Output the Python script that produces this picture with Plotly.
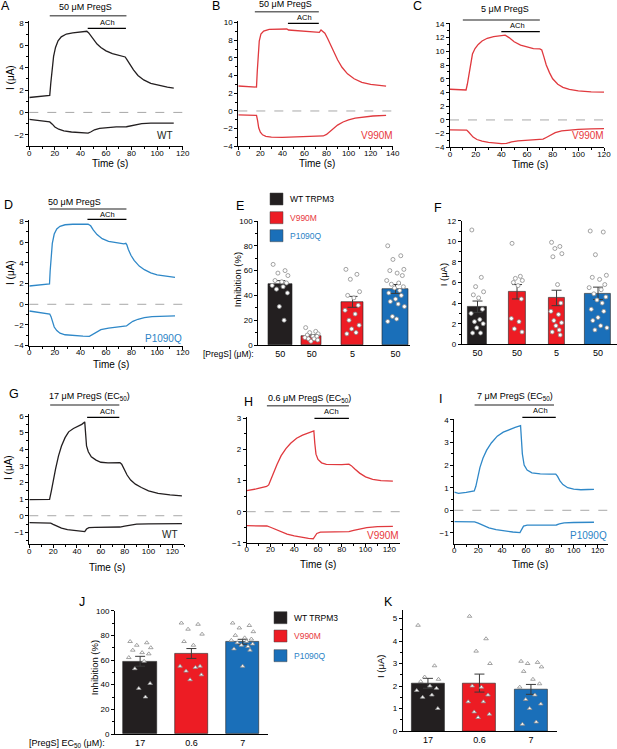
import plotly.graph_objects as go

W, H = 617, 749
FONT = "Arial, Liberation Sans, sans-serif"

BLACK = "#231f20"
RED_BAR = "#ed1c24"
BLUE_BAR = "#1a6fb9"
RED_LINE = "#e0393e"
BLUE_LINE = "#2f88c8"
RED_TEXT = "#e8383d"
BLUE_TEXT = "#2b83c6"
GREY_PT = "#8c8c8c"

# ── current traces (time in s, current in uA) ────────────────────────────────

A_UP_T = [0, 8, 16, 16.8, 17.8, 19, 20.5, 22.5, 25, 29, 34, 40, 45, 46.5, 48, 50, 53, 56, 60, 65, 70, 75, 76.5, 78.5, 81.5, 85, 89.5, 95, 102, 108, 113]
A_UP_I = [1.33, 1.42, 1.52, 2.6, 4.0, 5.0, 5.8, 6.4, 6.75, 7.0, 7.1, 7.2, 7.25, 7.1, 6.85, 6.5, 6.1, 5.8, 5.5, 5.25, 5.1, 4.95, 4.7, 4.3, 3.8, 3.3, 2.9, 2.6, 2.4, 2.25, 2.17]
A_DN_T = [0, 8, 16, 18, 20, 23, 27, 33, 40, 46, 48, 51, 55, 60, 68, 76, 79, 83, 88, 95, 105, 113]
A_DN_I = [-0.63, -0.72, -0.85, -1.05, -1.3, -1.5, -1.65, -1.75, -1.8, -1.85, -1.75, -1.55, -1.42, -1.35, -1.3, -1.28, -1.2, -1.08, -1.0, -0.96, -0.95, -0.95]

B_UP_T = [0, 8, 16.5, 17.2, 18, 19, 20.5, 23, 28, 35, 44, 45.5, 55, 65, 73.5, 75, 76.5, 78.5, 81, 84, 87, 90, 94, 99, 105, 112, 120, 128, 134]
B_UP_I = [2.83, 2.78, 2.7, 4.5, 6.8, 7.9, 8.7, 9.05, 9.25, 9.3, 9.28, 9.17, 9.08, 8.98, 8.9, 9.17, 9.05, 8.8, 8.2, 7.4, 6.6, 5.8, 4.95, 4.2, 3.65, 3.25, 3.0, 2.88, 2.82]
B_DN_T = [0, 8, 16.5, 17.5, 18.5, 20, 22, 25, 30, 40, 50, 60, 70, 77, 80, 83, 86, 90, 95, 100, 106, 113, 122, 134]
B_DN_I = [-0.45, -0.47, -0.5, -1.1, -1.9, -2.4, -2.7, -2.88, -2.95, -3.0, -2.95, -2.88, -2.85, -2.83, -2.65, -2.35, -2.0, -1.6, -1.25, -1.0, -0.8, -0.68, -0.57, -0.5]

C_UP_T = [0, 6, 12.5, 13.5, 14.8, 16, 17.5, 19.5, 22, 25, 29, 34, 40, 43, 46, 50, 55, 60, 65, 70, 71.5, 73, 75, 77.5, 80, 84, 88, 93, 100, 110, 120]
C_UP_I = [4.47, 4.42, 4.37, 5.2, 6.6, 8.2, 9.6, 10.4, 11.0, 11.5, 11.9, 12.15, 12.3, 12.35, 12.0, 11.4, 10.9, 10.6, 10.4, 10.35, 10.2, 9.3, 8.0, 6.9, 6.0, 5.2, 4.75, 4.45, 4.25, 4.1, 4.05]
C_DN_T = [0, 6, 13, 14.5, 16, 18, 21, 25, 30, 35, 40, 44, 48, 53, 60, 70, 72.5, 75, 78, 82, 87, 93, 100, 110, 120]
C_DN_I = [-1.45, -1.45, -1.47, -1.75, -2.1, -2.5, -2.85, -3.1, -3.28, -3.38, -3.45, -3.42, -3.2, -3.05, -2.97, -2.9, -2.8, -2.55, -2.2, -1.85, -1.6, -1.45, -1.37, -1.3, -1.27]

D_UP_T = [0, 8, 15.8, 16.3, 17, 18, 19.5, 21.5, 24, 28, 34, 40, 46, 48, 50, 53, 57, 62, 68, 74, 75.5, 76.3, 77.5, 79.5, 82, 86, 90, 95, 100, 107, 114]
D_UP_I = [1.77, 1.87, 1.97, 3.2, 4.6, 5.9, 6.8, 7.3, 7.55, 7.7, 7.75, 7.78, 7.75, 7.6, 7.2, 6.75, 6.35, 6.1, 5.95, 5.85, 5.9, 5.75, 5.3, 4.75, 4.25, 3.7, 3.35, 3.05, 2.85, 2.7, 2.6]
D_DN_T = [0, 8, 16, 17, 18, 19.5, 21.5, 24, 28, 35, 42, 47, 49, 52, 56, 62, 70, 76, 78, 81, 85, 90, 96, 104, 114]
D_DN_I = [-0.65, -0.8, -0.94, -1.2, -1.7, -2.2, -2.55, -2.8, -2.95, -3.05, -3.08, -3.1, -2.95, -2.7, -2.45, -2.3, -2.18, -2.1, -1.9, -1.65, -1.45, -1.3, -1.2, -1.15, -1.12]

G_UP_T = [0, 8, 17, 18.5, 20, 22, 24.5, 27, 30, 33, 37, 41, 44, 46.5, 47.2, 48, 49.5, 52, 56, 60, 66, 72, 76, 77.5, 79.5, 82, 85, 89, 94, 100, 108, 118, 128]
G_UP_I = [0.97, 0.97, 0.98, 1.5, 2.1, 2.8, 3.6, 4.2, 4.7, 5.05, 5.25, 5.4, 5.5, 5.65, 5.0, 4.2, 3.85, 3.55, 3.35, 3.22, 3.18, 3.18, 3.2, 3.1, 2.8, 2.45, 2.15, 1.9, 1.7, 1.5, 1.35, 1.25, 1.2]
G_DN_T = [0, 10, 18, 20, 23, 27, 32, 38, 44, 46.5, 48, 50, 55, 65, 76, 80, 84, 90, 100, 115, 128]
G_DN_I = [-0.42, -0.43, -0.45, -0.52, -0.63, -0.75, -0.84, -0.9, -0.93, -0.96, -0.8, -0.72, -0.7, -0.69, -0.68, -0.62, -0.56, -0.51, -0.49, -0.48, -0.48]

H_UP_T = [0, 8, 16.8, 18.5, 20, 22.5, 25.5, 29, 33, 37, 42, 47, 52, 55.5, 56.5, 57.3, 58.3, 60, 63, 67, 73, 80, 86, 88, 91, 95, 100, 106, 113, 118, 123]
H_UP_I = [0.68, 0.73, 0.81, 0.86, 1.0, 1.25, 1.52, 1.8, 2.03, 2.2, 2.36, 2.46, 2.54, 2.58, 2.6, 2.2, 1.85, 1.68, 1.57, 1.52, 1.51, 1.51, 1.53, 1.48, 1.37, 1.24, 1.12, 1.04, 1.0, 0.99, 0.98]
H_DN_T = [0, 8, 17, 20, 24, 29, 34, 40, 46, 52, 56, 57.5, 59, 62, 70, 80, 86, 90, 95, 101, 110, 123]
H_DN_I = [-0.45, -0.45, -0.46, -0.5, -0.56, -0.64, -0.72, -0.78, -0.83, -0.86, -0.87, -0.8, -0.7, -0.66, -0.65, -0.65, -0.64, -0.6, -0.55, -0.51, -0.48, -0.47]

I_UP_T = [0, 3.5, 10, 16.7, 18, 19.5, 21.5, 24, 27, 31, 36, 41, 46, 51, 55.5, 56.2, 57, 58.5, 61, 65, 72, 80, 85, 86.5, 88.5, 91, 95, 100, 106, 112, 117]
I_UP_I = [0.8, 0.75, 0.79, 0.86, 1.05, 1.45, 1.9, 2.3, 2.65, 2.98, 3.28, 3.46, 3.58, 3.67, 3.75, 3.1, 2.5, 2.0, 1.78, 1.66, 1.61, 1.6, 1.6, 1.5, 1.3, 1.14, 1.0, 0.94, 0.91, 0.92, 0.93]
I_DN_T = [0, 8, 17, 20, 24, 29, 35, 42, 49, 55, 56.5, 58, 61, 70, 80, 85.5, 88, 92, 100, 108, 117]
I_DN_I = [-0.5, -0.5, -0.51, -0.57, -0.68, -0.78, -0.86, -0.92, -0.96, -0.99, -0.82, -0.7, -0.66, -0.65, -0.65, -0.65, -0.6, -0.56, -0.54, -0.53, -0.53]

# drug application windows (s)
A_PREGS, A_ACH = [16, 76], [45.7, 75.6]
B_PREGS, B_ACH = [15, 73], [45, 73]
C_PREGS, C_ACH = [10, 70], [40, 70]
D_PREGS, D_ACH = [16, 76], [45.5, 76]
G_PREGS, G_ACH = [17.5, 75.5], [48.5, 75.5]
H_PREGS, H_ACH = [17, 86], [57, 86]
I_PREGS, I_ACH = [17, 83.5], [57, 85]

# ── summary bars ─────────────────────────────────────────────────────────────

E_LABELS = ["50", "50", "5", "50"]
E_MEAN = [49.3, 7.3, 34.8, 45.2]
E_SEM = [2.6, 1.0, 4.4, 3.6]
E_WT = [65, 60, 58, 56, 52, 51, 50, 48, 47, 45, 42, 31, 20]
E_V50 = [14, 11, 10, 9, 8, 7, 7, 6, 5, 5, 4, 3]
E_V5 = [61, 57, 53, 43, 40, 38, 32, 28, 25, 20, 16, 13, 10, 9]
E_P50 = [80, 72, 69, 61, 60, 58, 56, 52, 50, 49, 47, 46, 44, 42, 40, 37, 35, 33, 31, 23, 21, 19]

F_LABELS = ["50", "50", "5", "50"]
F_MEAN = [3.65, 5.1, 4.5, 4.95]
F_SEM = [0.55, 0.7, 0.75, 0.6]
F_WT = [11.1, 6.5, 5.6, 5.1, 4.8, 4.5, 3.4, 3.0, 2.4, 2.2, 2.0, 1.6, 1.1, 1.1]
F_V50 = [9.8, 6.6, 6.4, 6.2, 6.0, 5.7, 4.4, 2.5, 2.2, 1.5, 1.2]
F_V5 = [9.9, 9.5, 9.3, 8.8, 8.5, 5.8, 4.0, 3.2, 2.9, 2.3, 2.1, 1.8, 1.4, 1.2, 0.9]
F_P50 = [11.0, 10.9, 8.7, 6.7, 6.5, 6.3, 5.8, 5.5, 5.3, 4.9, 4.6, 4.3, 4.0, 3.4, 3.2, 2.6, 2.3, 1.8, 1.6, 1.4]

J_LABELS = ["17", "0.6", "7"]
J_MEAN = [59.0, 65.3, 74.8]
J_SEM = [4.0, 4.0, 2.0]
J_WT = [75, 74, 72, 70, 68, 66, 65, 62, 59, 53, 41, 37, 30]
J_V = [90, 89, 85, 81, 75, 72, 55, 55, 54, 51, 48, 44]
J_P = [90, 88, 86, 83, 80, 78, 77, 76, 75, 74, 73, 72, 71, 69, 68, 55]

K_LABELS = ["17", "0.6", "7"]
K_MEAN = [2.12, 2.13, 1.85]
K_SEM = [0.22, 0.4, 0.22]
K_WT = [4.7, 2.9, 2.4, 2.3, 2.2, 2.0, 1.9, 1.8, 1.6, 1.5, 1.0]
K_V = [5.1, 4.1, 3.55, 3.0, 2.0, 1.95, 1.6, 1.3, 1.3, 0.85, 0.75, 0.6]
K_P = [3.1, 3.05, 3.0, 2.85, 2.65, 2.3, 2.1, 1.95, 1.6, 1.4, 1.2, 1.0, 0.4, 0.3]

LEGEND_NAMES = ["WT TRPM3", "V990M", "P1090Q"]

# spread of the dots across a bar (fraction of bar width)
JITTER = [-0.3, 0.2, -0.1, 0.32, -0.22, 0.06, 0.26, -0.34, 0.12, -0.16, 0.3, -0.04, 0.16, -0.26, 0.22, 0.0, -0.2, 0.1, 0.34, -0.12, 0.04, -0.3]


def fx(p):
    return p / W


def fy(p):
    return 1 - p / H


def ax_names(n):
    s = "" if n == 1 else str(n)
    return "xaxis" + s, "yaxis" + s, "x" + s, "y" + s


fig = go.Figure()
layout = {}
shapes = []
annots = []


def text(x, y, s, size=9, color="black", angle=0, xanchor="center"):
    annots.append(dict(x=fx(x), y=fy(y), xref="paper", yref="paper", text=s,
                       showarrow=False, textangle=angle, xanchor=xanchor, yanchor="middle",
                       font=dict(family=FONT, size=size, color=color)))


def axis_style(**kw):
    d = dict(showline=True, linecolor="black", linewidth=1, ticks="outside", ticklen=3,
             tickcolor="black", showgrid=False, zeroline=False, fixedrange=True,
             tickfont=dict(family=FONT, size=8, color="black"))
    d.update(kw)
    return d


def trace_panel(n, xbox, ybox, xr, yr, ymaj, color, up_t, up_i, dn_t, dn_i,
                pregs, ach, bar_y, title, title_xy, ach_xy, tag, tag_xy, tag_color):
    xa, ya, xs, ys = ax_names(n)
    layout[xa] = axis_style(domain=[fx(xbox[0]), fx(xbox[1])], range=xr, dtick=20, tick0=0, anchor=ys,
                            ticklabelstandoff=-4,
                            minor=dict(dtick=10, ticks="outside", ticklen=2, tickcolor="black"))
    layout[ya] = axis_style(domain=[fy(ybox[1]), fy(ybox[0])], range=yr, dtick=ymaj, tick0=0, anchor=xs,
                            minor=dict(dtick=ymaj / 2, ticks="outside", ticklen=2, tickcolor="black"))
    for t, i in ((up_t, up_i), (dn_t, dn_i)):
        fig.add_trace(go.Scatter(x=t, y=i, mode="lines", xaxis=xs, yaxis=ys,
                                 line=dict(color=color, width=1.3), hoverinfo="skip"))
    shapes.append(dict(type="line", xref=xs + " domain", yref=ys, x0=0, x1=1, y0=0, y1=0,
                       line=dict(color="#a8a8a8", width=1, dash="dash")))
    shapes.append(dict(type="line", xref=xs, yref="paper", x0=pregs[0], x1=pregs[1],
                       y0=fy(bar_y[0]), y1=fy(bar_y[0]), line=dict(color="#6a6a6a", width=1.5)))
    shapes.append(dict(type="line", xref=xs, yref="paper", x0=ach[0], x1=ach[1],
                       y0=fy(bar_y[1]), y1=fy(bar_y[1]), line=dict(color="black", width=1.3)))
    text(title_xy[0], title_xy[1], title, size=9)
    text(ach_xy[0], ach_xy[1], "ACh", size=7.5)
    text(tag_xy[0], tag_xy[1], tag, size=10, color=tag_color)


def bar_panel(n, xbox, ybox, xr, yr, ymaj, pos, widths, colors, means, sems, pts, labels, symbol):
    xa, ya, xs, ys = ax_names(n)
    layout[xa] = axis_style(domain=[fx(xbox[0]), fx(xbox[1])], range=xr, anchor=ys, ticks="",
                            tickvals=pos, ticktext=labels, tickfont=dict(family=FONT, size=9, color="black"))
    layout[ya] = axis_style(domain=[fy(ybox[1]), fy(ybox[0])], range=yr, dtick=ymaj, tick0=0, anchor=xs,
                            minor=dict(dtick=ymaj / 2, ticks="outside", ticklen=2, tickcolor="black"))
    fig.add_trace(go.Bar(x=pos, y=means, width=widths, xaxis=xs, yaxis=ys,
                         marker=dict(color=colors, line=dict(color="#222", width=0.6)),
                         error_y=dict(type="data", array=sems, color="#3a3a3a", thickness=1, width=5),
                         hoverinfo="skip"))
    for p, w, vals in zip(pos, widths, pts):
        xs_pts = [p + JITTER[k % len(JITTER)] * w for k in range(len(vals))]
        fig.add_trace(go.Scatter(x=xs_pts, y=vals, mode="markers", xaxis=xs, yaxis=ys,
                                 marker=dict(symbol=symbol, size=4, color="white",
                                             line=dict(color=GREY_PT, width=0.8)),
                                 hoverinfo="skip"))


def legend(x, ys):
    for name, y, c, tc in zip(LEGEND_NAMES, ys, [BLACK, RED_BAR, BLUE_BAR], ["black", RED_TEXT, BLUE_TEXT]):
        shapes.append(dict(type="rect", xref="paper", yref="paper", x0=fx(x), x1=fx(x + 13),
                           y0=fy(y + 6), y1=fy(y - 6), fillcolor=c, line=dict(color="#444", width=0.5)))
        text(x + 18, y, name, size=8.5, color=tc, xanchor="left")


# ── A–D, G–I: current traces ─────────────────────────────────────────────────

trace_panel(1, (29.3, 182.7), (20.6, 146), [0, 120], [-3, 8.2], 2, BLACK, A_UP_T, A_UP_I, A_DN_T, A_DN_I,
            A_PREGS, A_ACH, (15.7, 28.3), "50 μM PregS", (85, 7), (107, 22), "WT", (165, 136), BLACK)
trace_panel(2, (238.3, 392.7), (20.9, 146.3), [0, 140], [-4, 10.2], 2, RED_LINE, B_UP_T, B_UP_I, B_DN_T, B_DN_I,
            B_PREGS, B_ACH, (11.7, 23.3), "50 μM PregS", (285, 4), (304, 17.5), "V990M", (377, 136), RED_TEXT)
trace_panel(3, (450, 604), (22.5, 147.4), [0, 120], [-4, 14.2], 2, RED_LINE, C_UP_T, C_UP_I, C_DN_T, C_DN_I,
            C_PREGS, C_ACH, (20, 31.7), "5 μM PregS", (505, 9.3), (517, 25.5), "V990M", (588, 136), RED_TEXT)
trace_panel(4, (29.3, 182.7), (219.6, 345.6), [0, 120], [-4, 8.2], 2, BLUE_LINE, D_UP_T, D_UP_I, D_DN_T, D_DN_I,
            D_PREGS, D_ACH, (209, 219.3), "50 μM PregS", (74, 201.5), (107, 214.5), "P1090Q", (163, 338), BLUE_TEXT)
trace_panel(7, (29.3, 184.3), (414.4, 544.3), [0, 130], [-1.72, 6.1], 1, BLACK, G_UP_T, G_UP_I, G_DN_T, G_DN_I,
            G_PREGS, G_ACH, (405, 417.3), "17 μM PregS (EC<sub>50</sub>)", (90, 396), (107, 411.5), "WT", (170, 534), BLACK)
trace_panel(8, (246.7, 400), (416.8, 542.8), [0, 129], [-1, 3.05], 1, RED_LINE, H_UP_T, H_UP_I, H_DN_T, H_DN_I,
            H_PREGS, H_ACH, (405.7, 418.3), "0.6 μM PregS (EC<sub>50</sub>)", (309, 398), (331, 411.5), "V990M", (383, 535.5), RED_TEXT)
trace_panel(9, (454.3, 608.3), (418.8, 543.5), [0, 129], [-1.47, 4.05], 1, BLUE_LINE, I_UP_T, I_UP_I, I_DN_T, I_DN_I,
            I_PREGS, I_ACH, (405, 417.3), "7 μM PregS (EC<sub>50</sub>)", (515, 396), (540, 410.5), "P1090Q", (588, 535), BLUE_TEXT)

# ── E, F, J, K: summary bars ─────────────────────────────────────────────────

bar_panel(5, (258.3, 410), (221, 345), [0, 4.83], [0, 100], 20, [0.7, 1.7, 3.0, 4.37], [0.76, 0.64, 0.7, 0.83],
          [BLACK, RED_BAR, RED_BAR, BLUE_BAR], E_MEAN, E_SEM, [E_WT, E_V50, E_V5, E_P50], E_LABELS, "circle")
bar_panel(6, (461.7, 617), (220.7, 344.3), [-0.4, 3.53], [0, 12], 2, [0, 1, 2, 3.05], [0.48, 0.42, 0.42, 0.66],
          [BLACK, RED_BAR, RED_BAR, BLUE_BAR], F_MEAN, F_SEM, [F_WT, F_V50, F_V5, F_P50], F_LABELS, "circle")
bar_panel(10, (115, 268.3), (610.7, 734), [-0.49, 2.5], [0, 100], 20, [0, 1, 2], [0.65, 0.65, 0.65],
          [BLACK, RED_BAR, BLUE_BAR], J_MEAN, J_SEM, [J_WT, J_V, J_P], J_LABELS, "triangle-up")
bar_panel(11, (402.7, 556.7), (609.5, 731), [-0.49, 2.5], [0, 5.4], 1, [0, 1, 2], [0.64, 0.64, 0.64],
          [BLACK, RED_BAR, BLUE_BAR], K_MEAN, K_SEM, [K_WT, K_V, K_P], K_LABELS, "triangle-up")

legend(270, [199, 217.7, 235.7])
legend(274, [617.7, 636, 655.7])

# axis titles
for x, y in [(10, 78), (11, 273), (8, 468)]:
    text(x, y, "I (μA)", size=10, angle=-90)
for x, y in [(110, 164), (317, 164), (530, 165), (111, 364), (107, 567), (318, 564.5), (530, 564.5)]:
    text(x, y, "Time (s)", size=10)
text(237.3, 280, "Inhibition (%)", size=9.5, angle=-90)
text(444.3, 275, "I (μA)", size=9.5, angle=-90)
text(94.3, 668, "Inhibition (%)", size=9.5, angle=-90)
text(380, 667, "I (μA)", size=9.5, angle=-90)
text(228, 354, "[PregS] (μM):", size=8.5)
text(67, 743.3, "[PregS] EC<sub>50</sub> (μM):", size=9)

# panel letters
for s, x, y in [("A", 5, 6.5), ("B", 216, 6.5), ("C", 417, 6.5), ("D", 8, 205.5), ("E", 240, 206.5),
                ("F", 438, 207.5), ("G", 13.5, 393.5), ("H", 248.5, 401.5), ("I", 440, 398.5),
                ("J", 82, 601.5), ("K", 388.5, 601.5)]:
    text(x, y, s, size=12.5)

fig.update_layout(
    width=W, height=H,
    margin=dict(l=0, r=0, t=0, b=0),
    template="none",
    paper_bgcolor="white",
    plot_bgcolor="white",
    showlegend=False,
    bargap=0,
    shapes=shapes,
    annotations=annots,
    **layout,
)

# the page's default body margin would push the 617x749 figure off the window
fig.write_html("out.html", config={"displayModeBar": False},
               post_script="document.body.style.margin='0';document.body.style.overflow='hidden';")
